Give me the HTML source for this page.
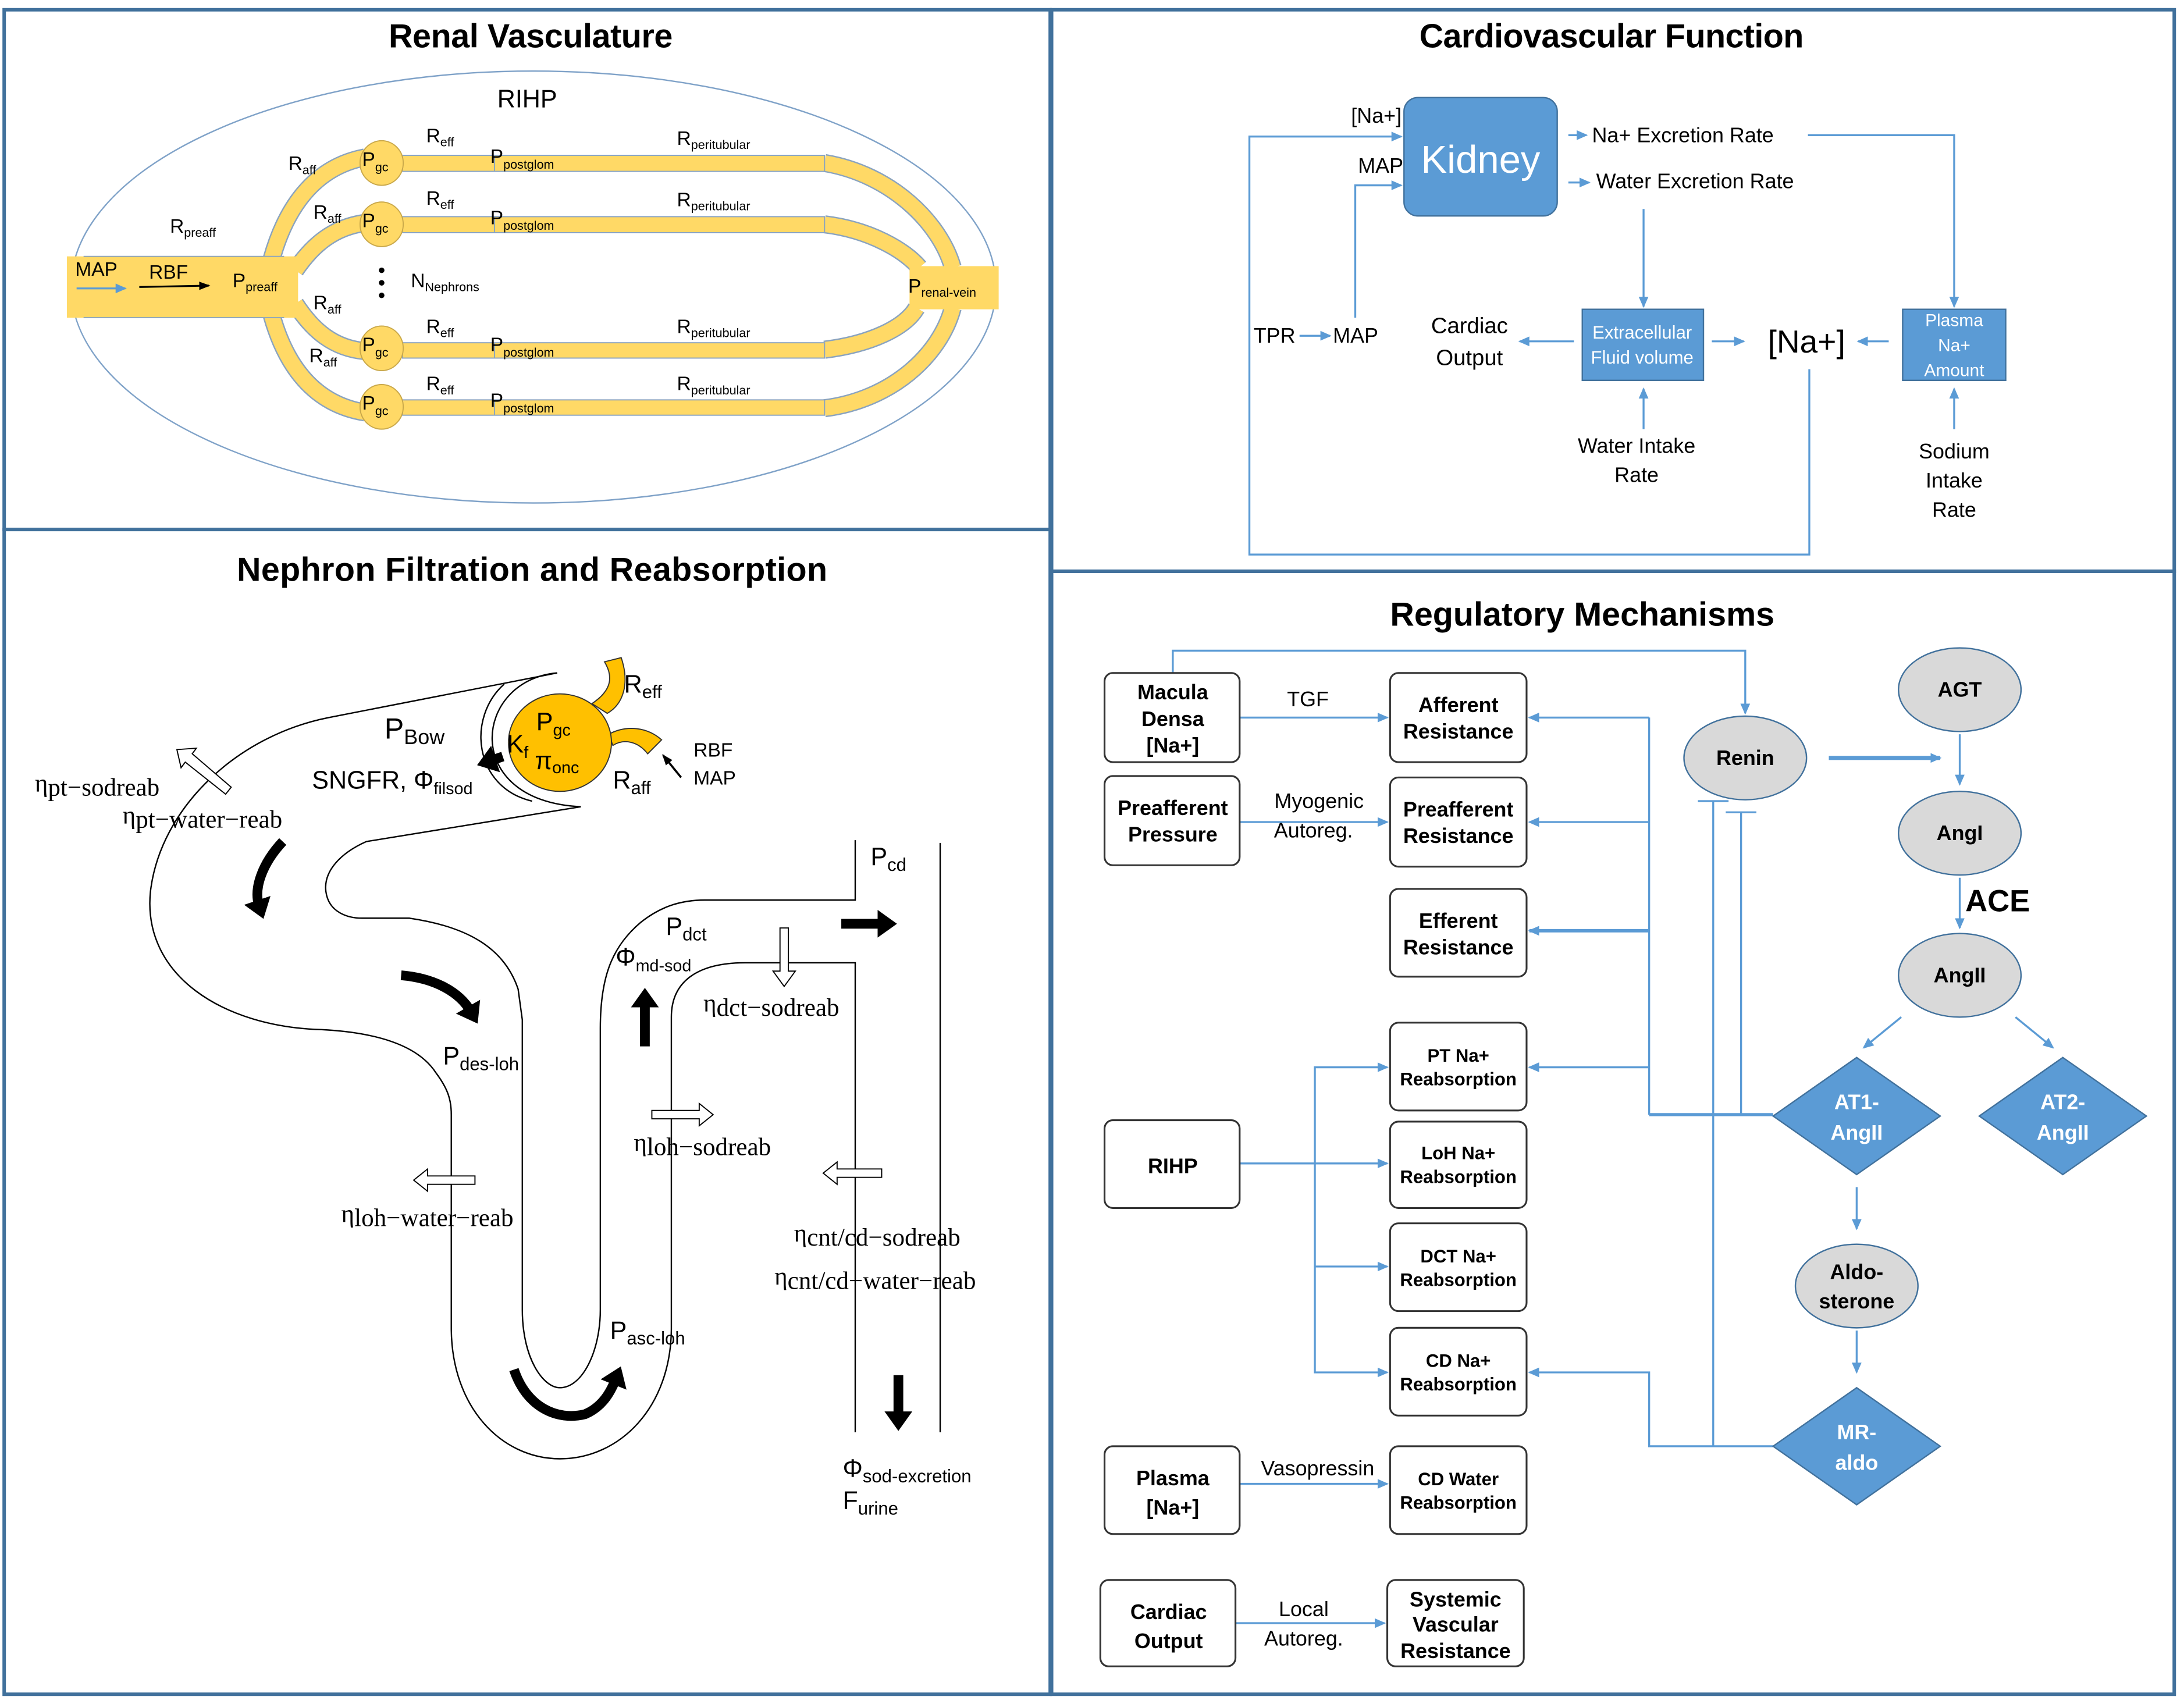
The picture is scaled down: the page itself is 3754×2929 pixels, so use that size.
<!DOCTYPE html>
<html><head><meta charset="utf-8"><style>
html,body{margin:0;padding:0;background:#fff}
svg{display:block}
text{font-family:"Liberation Sans",sans-serif}
.t{font-weight:bold;font-size:24px;text-anchor:middle}
.s{font-family:"Liberation Serif",serif}
.bx{fill:#fff;stroke:#333;stroke-width:1.3}
.bt{font-weight:bold;font-size:15px;text-anchor:middle}
.bts{font-weight:bold;font-size:13px;text-anchor:middle}
.bl{stroke:#5b9bd5;stroke-width:1.4;fill:none}
.el{fill:#d9d9d9;stroke:#41719c;stroke-width:1}
.dm{fill:#5b9bd5;stroke:#41719c;stroke-width:1}
.k{stroke:#000;fill:none;stroke-width:1}
</style></head><body>
<svg width="3754" height="2929" viewBox="0 0 1568 1223" preserveAspectRatio="none" xmlns="http://www.w3.org/2000/svg">
<defs>
<marker id="ab" markerWidth="8" markerHeight="8" refX="7" refY="4" orient="auto" markerUnits="userSpaceOnUse"><path d="M0,0.5 L8,4 L0,7.5 z" fill="#5b9bd5"/></marker>
<marker id="ak" markerWidth="8" markerHeight="8" refX="7" refY="4" orient="auto" markerUnits="userSpaceOnUse"><path d="M0,1 L8,4 L0,7 z" fill="#000"/></marker>
<marker id="akb" markerWidth="20" markerHeight="20" refX="4" refY="10" orient="auto" markerUnits="userSpaceOnUse"><path d="M0,0 L14,10 L0,20 z" fill="#000"/></marker>
</defs>
<rect width="1568" height="1223" fill="#fff"/>
<g fill="none" stroke="#41719c" stroke-width="2.5">
<rect x="3" y="7" width="751" height="373"/>
<rect x="755" y="7" width="806" height="403"/>
<rect x="3" y="380" width="751" height="836"/>
<rect x="755" y="410" width="806" height="806"/>
</g>
<text class="t" x="381" y="34" textLength="204">Renal Vasculature</text>
<text class="t" x="1157" y="34" textLength="276">Cardiovascular Function</text>
<text class="t" x="382" y="417" textLength="424">Nephron Filtration and Reabsorption</text>
<text class="t" x="1136" y="449" textLength="276">Regulatory Mechanisms</text>

<ellipse cx="383" cy="206" rx="332" ry="155" fill="none" stroke="#7fa2c8" stroke-width="1"/>
<g fill="none" stroke-linecap="butt">
<g stroke="#8aa3bf" stroke-width="13">
<path d="M195,186 C205,150 225,120 262,113"/>
<path d="M212,194 C225,175 240,163 262,160"/>
<path d="M212,218 C225,238 240,250 262,252"/>
<path d="M195,226 C205,262 225,290 262,296"/>
<path d="M592,117 C640,125 675,160 684,192"/>
<path d="M592,161 C625,165 650,180 660,192"/>
<path d="M592,251 C625,247 650,235 658,221"/>
<path d="M592,293 C640,287 675,255 684,221"/>
</g>
<g stroke="#ffd966" stroke-width="11">
<path d="M195,186 C205,150 225,120 262,113"/>
<path d="M212,194 C225,175 240,163 262,160"/>
<path d="M212,218 C225,238 240,250 262,252"/>
<path d="M195,226 C205,262 225,290 262,296"/>
<path d="M592,117 C640,125 675,160 684,192"/>
<path d="M592,161 C625,165 650,180 660,192"/>
<path d="M592,251 C625,247 650,235 658,221"/>
<path d="M592,293 C640,287 675,255 684,221"/>
</g>
</g>
<g fill="#ffd966" stroke="#8aa3bf" stroke-width="0.8">
<rect x="289" y="111.5" width="303" height="11.5"/>
<rect x="289" y="155.5" width="303" height="11.5"/>
<rect x="289" y="246" width="303" height="11"/>
<rect x="289" y="287" width="303" height="11"/>
<line x1="355" y1="111" x2="355" y2="123"/><line x1="355" y1="155" x2="355" y2="167"/>
<line x1="355" y1="246" x2="355" y2="257"/><line x1="355" y1="287" x2="355" y2="298"/>
</g>
<rect x="48" y="184" width="166" height="44" fill="#ffd966"/>
<line x1="60" y1="184" x2="204" y2="184" stroke="#8aa3bf" stroke-width="0.8"/>
<line x1="60" y1="228" x2="204" y2="228" stroke="#8aa3bf" stroke-width="0.8"/>
<rect x="653" y="191" width="64" height="31" fill="#ffd966"/>
<g fill="#ffd966" stroke="#c9a84a" stroke-width="0.8">
<ellipse cx="274" cy="117" rx="15.5" ry="16"/><ellipse cx="274" cy="161" rx="15.5" ry="16"/>
<ellipse cx="274" cy="250" rx="15.5" ry="16"/><ellipse cx="274" cy="292" rx="15.5" ry="16"/>
</g>
<g font-size="14">
<text x="357" y="77" font-size="18">RIHP</text>
<text x="54" y="198">MAP</text><text x="107" y="200">RBF</text>
<text x="167" y="206">P<tspan font-size="9" dy="3">preaff</tspan></text>
<text x="122" y="167">R<tspan font-size="9" dy="3">preaff</tspan></text>
<text x="207" y="122">R<tspan font-size="9" dy="3">aff</tspan></text>
<text x="225" y="157">R<tspan font-size="9" dy="3">aff</tspan></text>
<text x="225" y="222">R<tspan font-size="9" dy="3">aff</tspan></text>
<text x="222" y="260">R<tspan font-size="9" dy="3">aff</tspan></text>
<text x="260" y="119">P<tspan font-size="9" dy="4">gc</tspan></text>
<text x="260" y="163">P<tspan font-size="9" dy="4">gc</tspan></text>
<text x="260" y="252">P<tspan font-size="9" dy="4">gc</tspan></text>
<text x="260" y="294">P<tspan font-size="9" dy="4">gc</tspan></text>
<text x="306" y="102">R<tspan font-size="9" dy="3">eff</tspan></text>
<text x="306" y="147">R<tspan font-size="9" dy="3">eff</tspan></text>
<text x="306" y="239">R<tspan font-size="9" dy="3">eff</tspan></text>
<text x="306" y="280">R<tspan font-size="9" dy="3">eff</tspan></text>
<text x="486" y="104">R<tspan font-size="9" dy="3">peritubular</tspan></text>
<text x="486" y="148">R<tspan font-size="9" dy="3">peritubular</tspan></text>
<text x="486" y="239">R<tspan font-size="9" dy="3">peritubular</tspan></text>
<text x="486" y="280">R<tspan font-size="9" dy="3">peritubular</tspan></text>
<text x="352" y="117">P<tspan font-size="9" dy="4">postglom</tspan></text>
<text x="352" y="161">P<tspan font-size="9" dy="4">postglom</tspan></text>
<text x="352" y="252">P<tspan font-size="9" dy="4">postglom</tspan></text>
<text x="352" y="292">P<tspan font-size="9" dy="4">postglom</tspan></text>
<text x="295" y="206">N<tspan font-size="9" dy="3">Nephrons</tspan></text>
<text x="652" y="210">P<tspan font-size="9" dy="3">renal-vein</tspan></text>
</g>
<circle cx="274" cy="194" r="2"/><circle cx="274" cy="203" r="2"/><circle cx="274" cy="212" r="2"/>
<line x1="55" y1="207" x2="90" y2="207" class="bl" marker-end="url(#ab)"/>
<line x1="100" y1="206" x2="150" y2="205" stroke="#000" stroke-width="1.3" marker-end="url(#ak)"/>

<rect x="1008" y="70" width="110" height="85" rx="10" fill="#5b9bd5" stroke="#41719c"/>
<text x="1063" y="124" font-size="28" fill="#fff" text-anchor="middle">Kidney</text>
<g font-size="15">
<text x="970" y="88">[Na+]</text><text x="975" y="124">MAP</text>
<text x="1143" y="102">Na+ Excretion Rate</text>
<text x="1146" y="135">Water Excretion Rate</text>
<text x="900" y="246">TPR</text><text x="957" y="246">MAP</text>
<text x="1055" y="239" text-anchor="middle" font-size="16">Cardiac</text>
<text x="1055" y="262" text-anchor="middle" font-size="16">Output</text>
<text x="1175" y="325" text-anchor="middle">Water Intake</text>
<text x="1175" y="346" text-anchor="middle">Rate</text>
<text x="1403" y="329" text-anchor="middle">Sodium</text>
<text x="1403" y="350" text-anchor="middle">Intake</text>
<text x="1403" y="371" text-anchor="middle">Rate</text>
</g>
<text x="1297" y="253" font-size="23" text-anchor="middle">[Na+]</text>
<rect x="1136" y="222" width="87" height="51" fill="#5b9bd5" stroke="#41719c"/>
<text x="1179" y="243" font-size="13" fill="#fff" text-anchor="middle">Extracellular</text>
<text x="1179" y="261" font-size="13" fill="#fff" text-anchor="middle">Fluid volume</text>
<rect x="1366" y="222" width="74" height="51" fill="#5b9bd5" stroke="#41719c"/>
<text x="1403" y="234" font-size="12.5" fill="#fff" text-anchor="middle">Plasma</text>
<text x="1403" y="252" font-size="12.5" fill="#fff" text-anchor="middle">Na+</text>
<text x="1403" y="270" font-size="12.5" fill="#fff" text-anchor="middle">Amount</text>
<g class="bl">
<line x1="1126" y1="97" x2="1139" y2="97" marker-end="url(#ab)"/>
<line x1="1126" y1="131" x2="1141" y2="131" marker-end="url(#ab)"/>
<polyline points="1298,97 1403,97 1403,220" marker-end="url(#ab)"/>
<line x1="1180" y1="150" x2="1180" y2="220" marker-end="url(#ab)"/>
<line x1="1130" y1="245" x2="1091" y2="245" marker-end="url(#ab)"/>
<line x1="933" y1="241" x2="955" y2="241" marker-end="url(#ab)"/>
<polyline points="973,228 973,133 1006,133" marker-end="url(#ab)"/>
<polyline points="1299,265 1299,398 897,398 897,98 1006,98" marker-end="url(#ab)"/>
<line x1="1229" y1="245" x2="1252" y2="245" marker-end="url(#ab)"/>
<line x1="1356" y1="245" x2="1334" y2="245" marker-end="url(#ab)"/>
<line x1="1180" y1="308" x2="1180" y2="279" marker-end="url(#ab)"/>
<line x1="1403" y1="308" x2="1403" y2="279" marker-end="url(#ab)"/>
</g>

<g class="bl">
<polyline points="842,483 842,467 1253,467 1253,512" marker-end="url(#ab)"/>
<line x1="890" y1="515" x2="996" y2="515" marker-end="url(#ab)"/>
<line x1="890" y1="590" x2="996" y2="590" marker-end="url(#ab)"/>
<line x1="1184" y1="515" x2="1184" y2="800"/>
<line x1="1184" y1="515" x2="1098" y2="515" marker-end="url(#ab)"/>
<line x1="1184" y1="590" x2="1098" y2="590" marker-end="url(#ab)"/>
<line x1="1184" y1="668" x2="1098" y2="668" stroke-width="2.5" marker-end="url(#ab)"/>
<line x1="1184" y1="766" x2="1098" y2="766" marker-end="url(#ab)"/>
<line x1="1184" y1="800" x2="1273" y2="800" stroke-width="2.2"/>
<polyline points="1273,1038 1184,1038 1184,985 1098,985" marker-end="url(#ab)"/>
<line x1="1230" y1="575" x2="1230" y2="1038"/><line x1="1219" y1="575" x2="1241" y2="575"/>
<line x1="1250" y1="583" x2="1250" y2="800"/><line x1="1239" y1="583" x2="1261" y2="583"/>
<line x1="890" y1="835" x2="996" y2="835" marker-end="url(#ab)"/>
<polyline points="944,835 944,766 996,766" marker-end="url(#ab)"/>
<polyline points="944,835 944,985 996,985" marker-end="url(#ab)"/>
<line x1="944" y1="909" x2="996" y2="909" marker-end="url(#ab)"/>
<line x1="890" y1="1065" x2="996" y2="1065" marker-end="url(#ab)"/>
<line x1="887" y1="1165" x2="994" y2="1165" marker-end="url(#ab)"/>
<line x1="1313" y1="544" x2="1393" y2="544" stroke-width="3" marker-end="url(#ab)"/>
<line x1="1407" y1="527" x2="1407" y2="563" marker-end="url(#ab)"/>
<line x1="1407" y1="630" x2="1407" y2="666" marker-end="url(#ab)"/>
<line x1="1365" y1="730" x2="1338" y2="752" marker-end="url(#ab)"/>
<line x1="1447" y1="730" x2="1474" y2="752" marker-end="url(#ab)"/>
<line x1="1333" y1="852" x2="1333" y2="882" marker-end="url(#ab)"/>
<line x1="1333" y1="955" x2="1333" y2="985" marker-end="url(#ab)"/>
</g>
<g>
<rect class="bx" x="793" y="483" width="97" height="64" rx="6"/>
<text class="bt" x="842" y="502">Macula</text><text class="bt" x="842" y="521">Densa</text><text class="bt" x="842" y="540">[Na+]</text>
<rect class="bx" x="998" y="483" width="98" height="64" rx="6"/>
<text class="bt" x="1047" y="511">Afferent</text><text class="bt" x="1047" y="530">Resistance</text>
<rect class="bx" x="793" y="557" width="97" height="64" rx="6"/>
<text class="bt" x="842" y="585">Preafferent</text><text class="bt" x="842" y="604">Pressure</text>
<rect class="bx" x="998" y="558" width="98" height="64" rx="6"/>
<text class="bt" x="1047" y="586">Preafferent</text><text class="bt" x="1047" y="605">Resistance</text>
<rect class="bx" x="998" y="638" width="98" height="63" rx="6"/>
<text class="bt" x="1047" y="666">Efferent</text><text class="bt" x="1047" y="685">Resistance</text>
<rect class="bx" x="998" y="734" width="98" height="63" rx="6"/>
<text class="bts" x="1047" y="762">PT Na+</text><text class="bts" x="1047" y="779">Reabsorption</text>
<rect class="bx" x="998" y="805" width="98" height="62" rx="6"/>
<text class="bts" x="1047" y="832">LoH Na+</text><text class="bts" x="1047" y="849">Reabsorption</text>
<rect class="bx" x="998" y="878" width="98" height="63" rx="6"/>
<text class="bts" x="1047" y="906">DCT Na+</text><text class="bts" x="1047" y="923">Reabsorption</text>
<rect class="bx" x="998" y="953" width="98" height="63" rx="6"/>
<text class="bts" x="1047" y="981">CD Na+</text><text class="bts" x="1047" y="998">Reabsorption</text>
<rect class="bx" x="793" y="804" width="97" height="63" rx="6"/>
<text class="bt" x="842" y="842" font-size="17">RIHP</text>
<rect class="bx" x="793" y="1038" width="97" height="63" rx="6"/>
<text class="bt" x="842" y="1066" font-size="17">Plasma</text><text class="bt" x="842" y="1087" font-size="17">[Na+]</text>
<rect class="bx" x="998" y="1038" width="98" height="63" rx="6"/>
<text class="bts" x="1047" y="1066">CD Water</text><text class="bts" x="1047" y="1083">Reabsorption</text>
<rect class="bx" x="790" y="1134" width="97" height="62" rx="6"/>
<text class="bt" x="839" y="1162" font-size="17">Cardiac</text><text class="bt" x="839" y="1183" font-size="17">Output</text>
<rect class="bx" x="996" y="1134" width="98" height="62" rx="6"/>
<text class="bt" x="1045" y="1153">Systemic</text><text class="bt" x="1045" y="1171">Vascular</text><text class="bt" x="1045" y="1190">Resistance</text>
</g>
<g font-size="15" text-anchor="middle">
<text x="939" y="507">TGF</text>
<text x="947" y="580">Myogenic</text><text x="943" y="601">Autoreg.</text>
<text x="946" y="1059">Vasopressin</text>
<text x="936" y="1160">Local</text><text x="936" y="1181">Autoreg.</text>
</g>
<ellipse class="el" cx="1253" cy="544" rx="44" ry="30"/><text class="bt" x="1253" y="549">Renin</text>
<ellipse class="el" cx="1407" cy="495" rx="44" ry="30"/><text class="bt" x="1407" y="500">AGT</text>
<ellipse class="el" cx="1407" cy="598" rx="44" ry="30"/><text class="bt" x="1407" y="603">AngI</text>
<ellipse class="el" cx="1407" cy="700" rx="44" ry="30"/><text class="bt" x="1407" y="705">AngII</text>
<ellipse class="el" cx="1333" cy="923" rx="44" ry="30"/><text class="bt" x="1333" y="918">Aldo-</text><text class="bt" x="1333" y="939">sterone</text>
<text x="1411" y="654" font-weight="bold" font-size="22">ACE</text>
<polygon class="dm" points="1333,759 1393,801 1333,843 1273,801"/>
<text class="bt" x="1333" y="796" fill="#fff" font-size="16">AT1-</text><text class="bt" x="1333" y="818" fill="#fff" font-size="16">AngII</text>
<polygon class="dm" points="1481,759 1541,801 1481,843 1421,801"/>
<text class="bt" x="1481" y="796" fill="#fff" font-size="16">AT2-</text><text class="bt" x="1481" y="818" fill="#fff" font-size="16">AngII</text>
<polygon class="dm" points="1333,996 1393,1038 1333,1080 1273,1038"/>
<text class="bt" x="1333" y="1033" fill="#fff" font-size="16">MR-</text><text class="bt" x="1333" y="1055" fill="#fff" font-size="16">aldo</text>

<g class="k">
<path d="M400,483 L236,515 C170,528 115,580 108,640 C102,700 160,737 231,739 C270,741 300,750 313,770 C322,782 324,790 324,800 L324,953 C324,1010 360,1047 402,1047 C445,1047 482,1010 482,953 L482,730 C482,705 500,691 535,691 L614,691 L614,1028"/>
<path d="M417,579 L263,604 C245,612 232,625 234,640 C236,655 250,659 260,659 L294,659 C335,665 362,680 372,710 L375,732 L375,940 C375,975 390,996 402,996 C418,996 431,970 431,940 L431,738 C431,700 440,679 460,662 C475,650 490,646 506,646 L614,646 L614,603"/>
<line x1="675" y1="605" x2="675" y2="1028"/>
<path d="M400,483 C340,488 330,575 417,579"/>
<path d="M362,491 C335,515 340,565 382,575" />
</g>
<g fill="#ffc000" stroke="#333" stroke-width="0.8">
<path d="M425,505 C440,495 440,485 434,475 L446,472 C452,490 448,505 436,512 z"/>
<path d="M437,527 C450,520 465,522 475,531 L465,541 C458,532 448,530 440,535 z"/>
<ellipse cx="402" cy="533" rx="37" ry="35"/>
</g>
<g font-size="18">
<text x="385" y="524">P<tspan font-size="12" dy="4">gc</tspan></text>
<text x="364" y="540">K<tspan font-size="12" dy="4">f</tspan></text>
<text x="384" y="552">π<tspan font-size="12" dy="3">onc</tspan></text>
<text x="448" y="497">R<tspan font-size="13" dy="4">eff</tspan></text>
<text x="440" y="566">R<tspan font-size="13" dy="4">aff</tspan></text>
<text x="498" y="543" font-size="14">RBF</text><text x="498" y="563" font-size="14">MAP</text>
<text x="276" y="530" font-size="21">P<tspan font-size="15" dy="4">Bow</tspan></text>
<text x="224" y="566">SNGFR, Φ<tspan font-size="12" dy="4">filsod</tspan></text>
<text x="318" y="764">P<tspan font-size="13" dy="4">des-loh</tspan></text>
<text x="438" y="961">P<tspan font-size="13" dy="4">asc-loh</tspan></text>
<text x="478" y="671">P<tspan font-size="13" dy="4">dct</tspan></text>
<text x="442" y="693">Φ<tspan font-size="12" dy="4">md-sod</tspan></text>
<text x="625" y="621">P<tspan font-size="13" dy="4">cd</tspan></text>
<text x="605" y="1060">Φ<tspan font-size="13" dy="4">sod-excretion</tspan></text>
<text x="605" y="1083">F<tspan font-size="13" dy="4">urine</tspan></text>
</g>
<g class="s" font-size="18">
<text class="s" x="25" y="568">η<tspan dy="3">pt−sodreab</tspan></text>
<text class="s" x="88" y="591">η<tspan dy="3">pt−water−reab</tspan></text>
<text class="s" x="505" y="726">η<tspan dy="3">dct−sodreab</tspan></text>
<text class="s" x="455" y="826">η<tspan dy="3">loh−sodreab</tspan></text>
<text class="s" x="245" y="877">η<tspan dy="3">loh−water−reab</tspan></text>
<text class="s" x="570" y="891">η<tspan dy="3">cnt/cd−sodreab</tspan></text>
<text class="s" x="556" y="922">η<tspan dy="3">cnt/cd−water−reab</tspan></text>
</g>
<line x1="489" y1="558" x2="476" y2="542" stroke="#000" stroke-width="1.5" marker-end="url(#ak)"/>
<g stroke="#000" stroke-width="7" fill="none">
<line x1="361" y1="543" x2="352" y2="546" marker-end="url(#akb)"/>
<path d="M203,604 C188,620 182,638 186,650" marker-end="url(#akb)"/>
<path d="M288,700 C312,702 330,712 338,726" marker-end="url(#akb)"/>
<path d="M369,983 C378,1010 400,1020 420,1015 C432,1010 438,1000 442,990" marker-end="url(#akb)"/>
<line x1="463" y1="751" x2="463" y2="719" marker-end="url(#akb)"/>
<line x1="604" y1="663" x2="634" y2="663" marker-end="url(#akb)"/>
<line x1="645" y1="987" x2="645" y2="1017" marker-end="url(#akb)"/>
</g>
<g fill="#fff" stroke="#000" stroke-width="0.8">
<polygon points="341,844 307,844 307,839 297,847 307,855 307,850 341,850"/>
<polygon points="468,797 502,797 502,792 512,800 502,808 502,803 468,803"/>
<polygon points="633,839 601,839 601,834 591,842 601,850 601,845 633,845"/>
<polygon points="560,666 560,697 555,697 563,708 571,697 566,697 566,666"/>
<polygon points="166,565 138,541 141,537 127,538 130,551 133,547 162,570"/>
</g>
</svg>
</body></html>
